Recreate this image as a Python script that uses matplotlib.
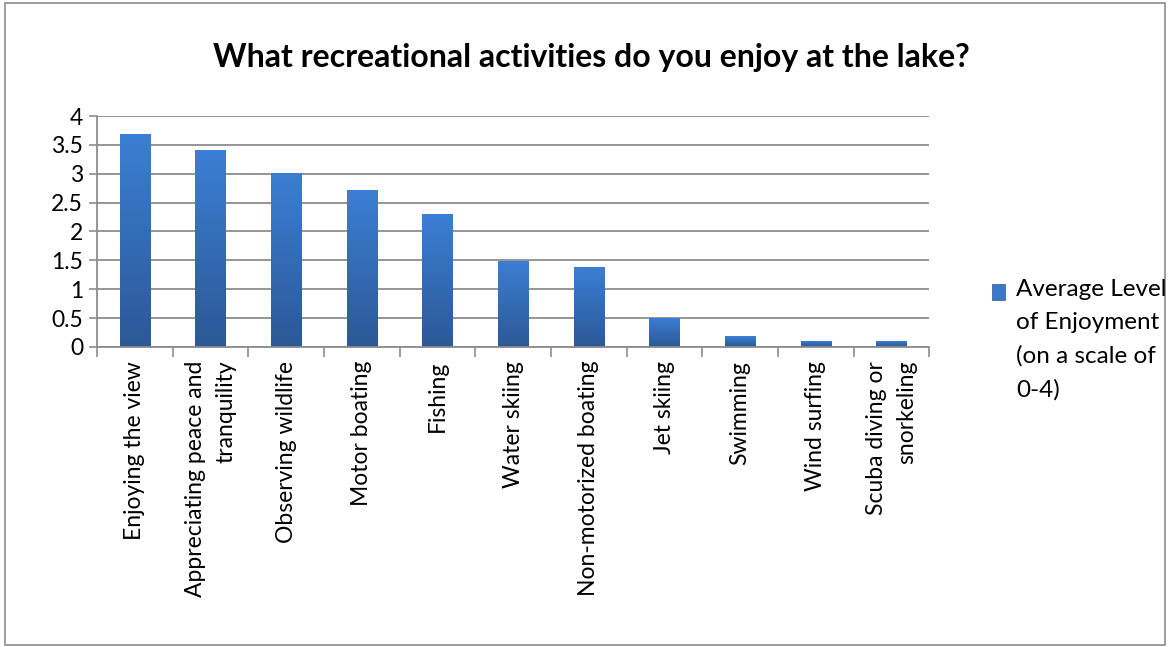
import matplotlib.pyplot as plt
import numpy as np
from matplotlib.patches import Rectangle

plt.rcParams.update({"font.family": ["Lato", "DejaVu Sans"], "font.size": 16.5})

activities = ['Enjoying the view', 'Appreciating peace and\ntranquility', 'Observing wildlife',
              'Motor boating', 'Fishing', 'Water skiing', 'Non-motorized boating', 'Jet skiing',
              'Swimming', 'Wind surfing', 'Scuba diving or\nsnorkeling']
enjoyment = [3.69, 3.41, 3.02, 2.71, 2.30, 1.49, 1.39, 0.51, 0.19, 0.11, 0.11]
yticks = [0, 0.5, 1, 1.5, 2, 2.5, 3, 3.5, 4]
series_label = 'Average Level\nof Enjoyment\n(on a scale of\n0-4)'

fig = plt.figure(figsize=(11.69, 6.47), dpi=100)
ax = fig.add_axes([0.083, 0.4637, 0.712, 0.357])

x = np.arange(len(activities))
width = 0.4
bars = ax.bar(x, enjoyment, width, color='#3a78c8', zorder=2)

# vertical gradient on the bars
grad = np.linspace(0, 1, 256).reshape(-1, 1)
cmap = plt.matplotlib.colors.LinearSegmentedColormap.from_list('b', ['#2c5896', '#3b7fd4'])
for b in bars:
    b.set_facecolor('none')
    im = ax.imshow(grad, cmap=cmap, aspect='auto', origin='lower',
                   extent=[b.get_x(), b.get_x() + b.get_width(), 0, b.get_height()], zorder=2)
    im.set_clip_path(b)

ax.set_xlim(-0.5, len(activities) - 0.5)
ax.set_ylim(0, 4)
ax.set_yticks(yticks)
ax.set_yticklabels([f'{t:g}' for t in yticks])
ax.yaxis.grid(True, color='#8c8c8c', linewidth=1.3, zorder=0)
ax.set_axisbelow(True)

ax.set_xticks(x)
ax.set_xticklabels(activities, rotation=90, va='top', ha='center', multialignment='right',
                   linespacing=1.55)
ax.set_xticks(np.arange(len(activities) + 1) - 0.5, minor=True)
ax.tick_params(axis='x', which='major', length=0, pad=10)
ax.tick_params(axis='x', which='minor', length=7, color='#8c8c8c', width=1.2)
ax.tick_params(axis='y', length=6, color='#8c8c8c', width=1.2, pad=4)

for s in ['top', 'right']:
    ax.spines[s].set_visible(False)
for s in ['left', 'bottom']:
    ax.spines[s].set_color('#8c8c8c')
    ax.spines[s].set_linewidth(1.3)

fig.text(0.506, 0.911, 'What recreational activities do you enjoy at the lake?',
         ha='center', va='center', fontsize=23, fontweight='bold')

# legend
fig.patches.append(Rectangle((0.8485, 0.537), 0.011, 0.024, transform=fig.transFigure,
                             facecolor='#3a78c8', edgecolor='#2c5896', linewidth=0.5))
fig.text(0.8695, 0.569, series_label, ha='left', va='top', fontsize=17.5, linespacing=1.7)

# outer border
fig.patches.append(Rectangle((0.004, 0.003), 0.993, 0.993, transform=fig.transFigure,
                             fill=False, edgecolor='#8c8c8c', linewidth=1.2))

fig.savefig('out.png', dpi=100)
